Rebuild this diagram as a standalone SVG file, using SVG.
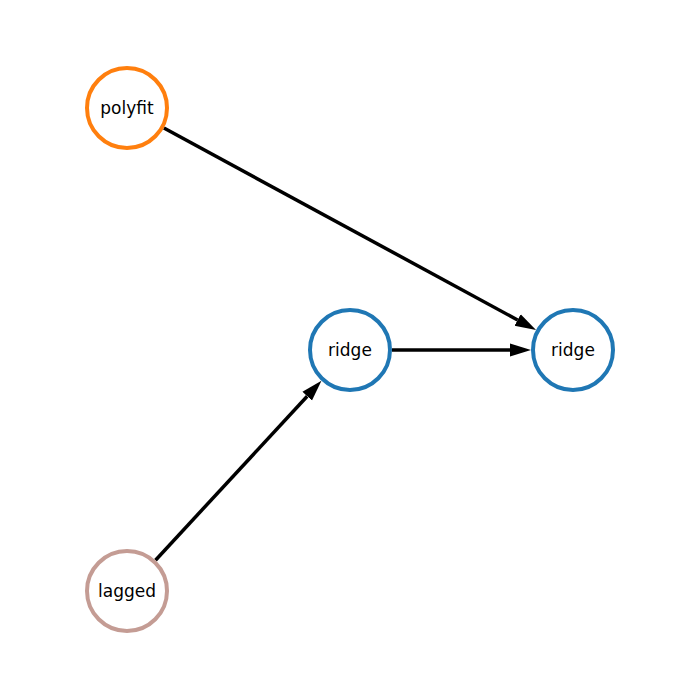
<svg xmlns="http://www.w3.org/2000/svg" width="700" height="700" viewBox="0 0 700 700">
<style>
.node circle{fill:#fff;stroke-width:4}
.node text{font-family:"DejaVu Sans",sans-serif;font-size:17px;fill:#000;text-anchor:middle;dominant-baseline:central}
.edge{stroke:#000;stroke-width:3.5;fill:none;marker-end:url(#ah)}
</style>
<defs>
<marker id="ah" markerUnits="userSpaceOnUse" markerWidth="23" markerHeight="15" viewBox="0 -7.5 23 15" refX="0" refY="0" orient="auto">
<path d="M0,-6.5 L21,0 L0,6.5 z" fill="#000"/>
</marker>
</defs>
<rect width="700" height="700" fill="#fff"/>
<g id="edges">
<line class="edge" x1="392" y1="350" x2="510" y2="350"/>
<line class="edge" x1="163.9" y1="128" x2="517.6" y2="320"/>
<line class="edge" x1="155.5" y1="560.2" x2="307.2" y2="396.2"/>
</g>
<g id="polyfit" class="node"><circle cx="127" cy="108" r="40" stroke="#ff7f0e"/><text x="127" y="108">polyfit</text></g>
<g id="ridge1" class="node"><circle cx="350" cy="350" r="40" stroke="#1f77b4"/><text x="350" y="350">ridge</text></g>
<g id="ridge2" class="node"><circle cx="573" cy="350" r="40" stroke="#1f77b4"/><text x="573" y="350">ridge</text></g>
<g id="lagged" class="node"><circle cx="127" cy="591" r="40" stroke="#c49c94"/><text x="127" y="591">lagged</text></g>
</svg>
